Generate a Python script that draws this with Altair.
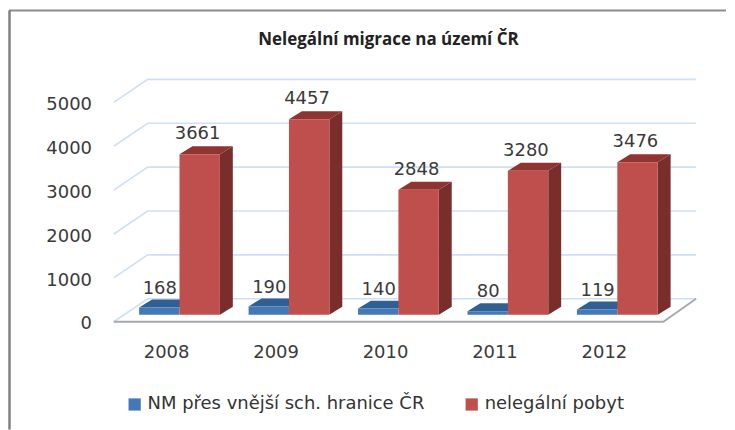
import altair as alt
import pandas as pd

years = ["2008", "2009", "2010", "2011", "2012"]
border_values = [168, 190, 140, 80, 119]
stay_values = [3661, 4457, 2848, 3280, 3476]
grid_values = [0, 1000, 2000, 3000, 4000, 5000]
series_names = ["NM přes vnější sch. hranice ČR", "nelegální pobyt"]
title_text = "Nelegální migrace na území ČR"

BLUE, BLUE_TOP = "#4479B8", "#2F5F93"
RED, RED_TOP, RED_SIDE = "#BE4F4C", "#8F3431", "#7A2E2C"
GRID = "#CFDFF6"
X_DOM = [-1.558, 4.993]
Y_DOM = [-2613, 6978]
x_s = alt.Scale(domain=X_DOM, nice=False, zero=False)
y_s = alt.Scale(domain=Y_DOM, nice=False, zero=False)
X = lambda f: alt.X(f, type="quantitative", scale=x_s, axis=None)
Y = lambda f: alt.Y(f, type="quantitative", scale=y_s, axis=None)
BAR_W, DX, DV = 0.369, 0.118, 182
FX0, FX1, BX1, FV, BV = -0.601, 4.42, 4.72, -159, 364


def top_rows(x0, x1, v, key):
    return [
        dict(k=key, x=x0, a=v, b=v),
        dict(k=key, x=x0 + DX, a=v, b=v + DV),
        dict(k=key, x=x1, a=v, b=v + DV),
        dict(k=key, x=x1 + DX, a=v + DV, b=v + DV),
    ]


front, blue_top, red_top, red_side = [], [], [], []
for i, (b, r) in enumerate(zip(border_values, stay_values)):
    front.append(dict(x=i - BAR_W, x2=i, v=b, s=series_names[0]))
    front.append(dict(x=i, x2=i + BAR_W, v=r, s=series_names[1]))
    blue_top += top_rows(i - BAR_W, i, b, i)
    red_top += top_rows(i, i + BAR_W, r, i)
    red_side += [
        dict(k=i, x=i + BAR_W, a=0, b=r),
        dict(k=i, x=i + BAR_W + DX, a=DV, b=r + DV),
    ]
front = pd.DataFrame(front)
front["zero"] = 0

grid = []
for v in grid_values:
    grid += [dict(k=v, o=0, x=FX0, y=v + FV), dict(k=v, o=1, x=FX0 + 0.31, y=v + BV), dict(k=v, o=2, x=BX1, y=v + BV)]
grid_layer = alt.Chart(pd.DataFrame(grid)).mark_line(color=GRID, strokeWidth=1.6).encode(
    x=X("x"), y=Y("y"), detail="k:N", order="o:Q")

floor = pd.DataFrame([dict(o=0, x=FX0, y=FV), dict(o=1, x=FX1, y=FV), dict(o=2, x=BX1, y=BV)])
floor_layer = alt.Chart(floor).mark_line(color="#A5A9AD", strokeWidth=1.8).encode(x=X("x"), y=Y("y"), order="o:Q")


def poly(rows, color):
    return alt.Chart(pd.DataFrame(rows)).mark_area(color=color, interpolate="linear").encode(
        x=X("x"), y=Y("a"), y2="b:Q", detail="k:N")


front_layer = alt.Chart(front).mark_rect().encode(
    x=X("x"), x2="x2:Q", y=Y("zero"), y2="v:Q",
    color=alt.Color("s:N", scale=alt.Scale(domain=series_names, range=[BLUE, RED]),
                    legend=alt.Legend(title=None, orient="none", direction="horizontal", legendX=117, legendY=388,
                                      symbolType="square", symbolSize=150, symbolStrokeWidth=0,
                                      symbolOpacity=1, labelFont="DejaVu Sans", labelFontSize=18,
                                      labelColor="#333333", labelLimit=340, columnPadding=38, symbolOffset=0)),
)

lab_font = "DejaVu Sans"
blue_lab = pd.DataFrame(dict(x=[i - 0.18 for i in range(5)], y=[v + 430 for v in border_values], t=[str(v) for v in border_values]))
red_lab = pd.DataFrame(dict(x=[i + 0.165 for i in range(5)], y=[v + 450 for v in stay_values], t=[str(v) for v in stay_values]))
value_labels = alt.Chart(pd.concat([blue_lab, red_lab])).mark_text(
    font=lab_font, fontSize=18, color="#3A3A3A", baseline="middle").encode(x=X("x"), y=Y("y"), text="t:N")

x_lab = pd.DataFrame(dict(x=[i - 0.118 for i in range(5)], y=[-864] * 5, t=years))
x_labels = alt.Chart(x_lab).mark_text(font=lab_font, fontSize=18, color="#3A3A3A", baseline="middle").encode(
    x=X("x"), y=Y("y"), text="t:N")

y_lab = pd.DataFrame(dict(x=[-0.80] * 6, y=[v - 221 for v in grid_values], t=[str(v) for v in grid_values]))
y_labels = alt.Chart(y_lab).mark_text(font=lab_font, fontSize=18, color="#3A3A3A", baseline="middle", align="right").encode(
    x=X("x"), y=Y("y"), text="t:N")

title_layer = alt.Chart(pd.DataFrame(dict(x=[1.909], y=[6270], t=[title_text]))).mark_text(
    font="Open Sans", fontWeight="bold", fontSize=17, color="#222222", baseline="middle").encode(
    x=X("x"), y=Y("y"), text="t:N")

border_top = alt.Chart(pd.DataFrame(dict(a=[0]))).mark_rule(color="#8C8C8C", strokeWidth=2).encode(
    x=alt.value(0), x2=alt.value(719), y=alt.value(2))
border_left = alt.Chart(pd.DataFrame(dict(a=[0]))).mark_rule(color="#808080", strokeWidth=2.5).encode(
    x=alt.value(0.5), y=alt.value(2), y2=alt.value(422))

chart = alt.layer(
    border_top, border_left, grid_layer, floor_layer,
    poly(blue_top, BLUE_TOP), poly(red_side, RED_SIDE), poly(red_top, RED_TOP),
    front_layer, value_labels, x_labels, y_labels, title_layer,
).properties(width=719, height=422, padding=0, background="white").configure_view(stroke=None)

chart.save("out.html", embed_options={"renderer": "svg", "actions": False})
